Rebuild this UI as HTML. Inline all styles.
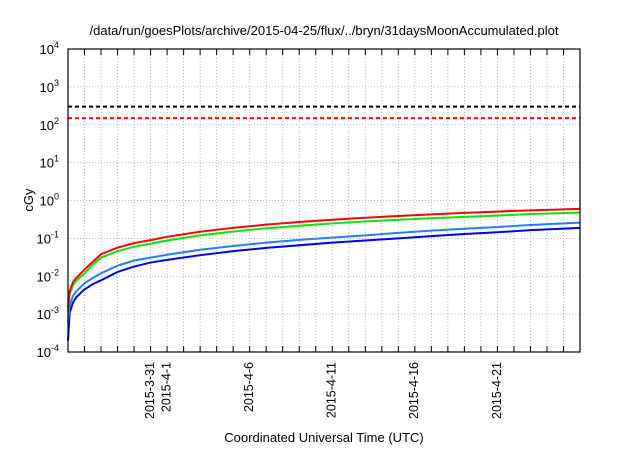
<!DOCTYPE html>
<html><head><meta charset="utf-8"><style>
body{margin:0;background:#fff}
svg text{font-family:"Liberation Sans",sans-serif;fill:#000}
</style></head><body>
<svg id="c" width="640" height="448"></svg>
<script>
const days=[0,0.1,0.3,0.5,1,1.5,2,3,4,5,6,8,10,12,14,16,18,20,22,24,26,28,31];
const redVals=[0.0015,0.004,0.007,0.009,0.015,0.024,0.038,0.057,0.075,0.09,0.11,0.15,0.19,0.23,0.27,0.31,0.35,0.39,0.43,0.47,0.51,0.55,0.6];
const greenVals=[0.0012,0.0033,0.0058,0.0075,0.012,0.02,0.031,0.046,0.06,0.072,0.088,0.12,0.152,0.184,0.216,0.248,0.28,0.31,0.34,0.37,0.4,0.44,0.48];
const lblueVals=[0.0006,0.0017,0.003,0.004,0.0065,0.009,0.012,0.019,0.026,0.031,0.037,0.05,0.063,0.077,0.091,0.105,0.12,0.14,0.16,0.18,0.2,0.225,0.26];
const blueVals=[0.0002,0.0011,0.002,0.0028,0.0045,0.0062,0.0078,0.013,0.018,0.023,0.027,0.036,0.046,0.056,0.066,0.077,0.088,0.1,0.115,0.13,0.145,0.165,0.19];
const limitVals=[300,150];
const xTickLabels=["2015-3-31","2015-4-1","2015-4-6","2015-4-11","2015-4-16","2015-4-21"];
const xTickDays=[4.9,5.9,10.9,15.9,20.9,25.9];
const yExps=[-4,-3,-2,-1,0,1,2,3,4];
const L=68,R=580,T=49,B=352,ND=31;
const X=d=>L+(R-L)*d/ND;
const Y=v=>B-(B-T)*(Math.log10(v)+4)/8;
const s=document.getElementById('c');
function el(t,a,txt){const e=document.createElementNS('http://www.w3.org/2000/svg',t);for(const k in a)e.setAttribute(k,a[k]);if(txt!=null)e.textContent=txt;s.appendChild(e);return e;}
for(let d=1;d<ND;d++){const g=el('line',{x1:X(d),x2:X(d),y1:T,y2:B,stroke:'#aaa','stroke-dasharray':'1,2','stroke-width':0.8});

for(const yy of [B,T]){const t=el('line',{x1:X(d),x2:X(d),y1:yy,y2:yy==B?B-6:T+6,stroke:'#000'});}}
yExps.forEach(e=>{const y=Y(Math.pow(10,e));
if(e>-4&&e<4){const g=el('line',{x1:L,x2:R,y1:y,y2:y,stroke:'#aaa','stroke-dasharray':'1,2','stroke-width':0.8});}
const t=el('text',{x:L-9,y:y+5,'font-size':13,'text-anchor':'end'});
t.innerHTML='10<tspan dy="-6" font-size="9">'+e+'</tspan>';});
xTickLabels.forEach((lab,i)=>{const x=X(xTickDays[i]);const t=el('text',{transform:`translate(${x+5},${B+10}) rotate(-90)`,'font-size':12.5,'text-anchor':'end'},lab);});
const lc=['#000','#f00'];
limitVals.forEach((v,i)=>{const l=el('line',{x1:L,x2:R,y1:Y(v),y2:Y(v),stroke:lc[i],'stroke-width':2,'stroke-dasharray':'4,3'});});
const series=[[blueVals,'#0000f0','blue-series'],[lblueVals,'#2080ff','light-blue-series'],[greenVals,'#00e800','green-series'],[redVals,'#ff0000','red-series']];
series.forEach(([vals,c,n])=>{const p=el('polyline',{points:vals.map((v,i)=>X(days[i])+','+Y(v)).join(' '),fill:'none',stroke:c,'stroke-width':2});});
const f=el('rect',{x:L,y:T,width:R-L,height:B-T,fill:'none',stroke:'#000','stroke-width':1.2});
const ti=el('text',{x:324,y:35,'font-size':13,'text-anchor':'middle'},'/data/run/goesPlots/archive/2015-04-25/flux/../bryn/31daysMoonAccumulated.plot');
const yl=el('text',{transform:'translate(33,200) rotate(-90)','font-size':13,'text-anchor':'middle'},'cGy');
const xl=el('text',{x:324,y:442,'font-size':13,'text-anchor':'middle'},'Coordinated Universal Time (UTC)');
</script></body></html>
